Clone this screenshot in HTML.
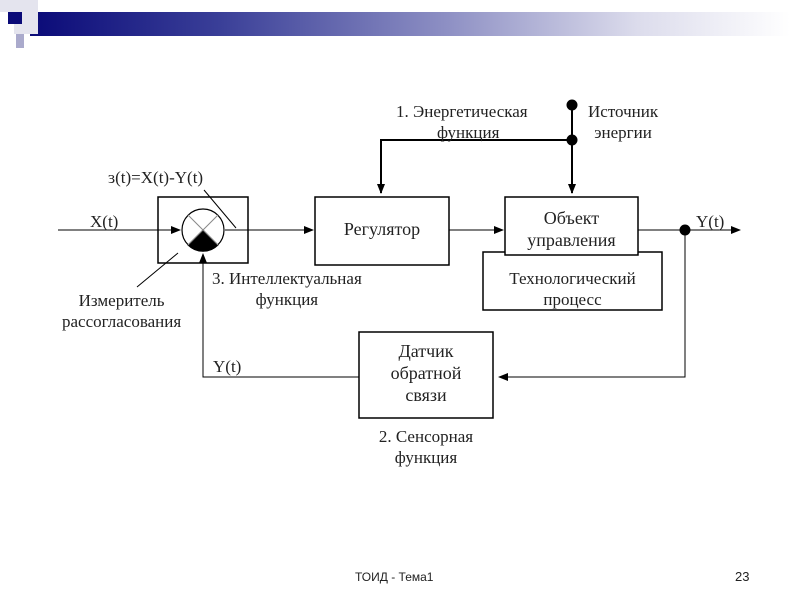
<!DOCTYPE html>
<html><head><meta charset="utf-8"><style>
body{margin:0;width:800px;height:600px;background:#fff;overflow:hidden;position:relative;font-family:"Liberation Serif",serif}
.t{position:absolute;font-size:17px;color:#222;text-align:center;line-height:19px;white-space:nowrap}
</style></head><body>
<div style="position:absolute;left:30px;top:12px;width:760px;height:24px;background:linear-gradient(to right,#0a0a78,#3a3f98 25%,#8e90c4 55%,#dcdcec 80%,#fff)"></div>
<div style="position:absolute;left:0;top:0;width:38px;height:12px;background:#e4e4ee"></div>
<div style="position:absolute;left:14px;top:0;width:24px;height:34px;background:#e4e4ee"></div>
<div style="position:absolute;left:8px;top:12px;width:14px;height:12px;background:#0a0a78"></div>
<div style="position:absolute;left:16px;top:34px;width:8px;height:14px;background:#aaaacc"></div>
<svg width="800" height="600" style="position:absolute;left:0;top:0" fill="none" stroke="#000">
<defs><marker id="a" markerWidth="10" markerHeight="8" refX="9" refY="4" orient="auto" markerUnits="userSpaceOnUse"><path d="M0,0L10,4L0,8z" fill="#000" stroke="none"/></marker></defs>
<rect x="158" y="197" width="90" height="66" stroke-width="1.5"/>
<rect x="315" y="197" width="134" height="68" stroke-width="1.5"/>
<rect x="483" y="252" width="179" height="58" stroke-width="1.5"/>
<rect x="505" y="197" width="133" height="58" fill="#fff" stroke-width="1.5"/>
<rect x="359" y="332" width="134" height="86" stroke-width="1.5"/>
<circle cx="203" cy="230" r="21" stroke-width="1.2"/>
<path d="M203,230L188,245A21,21 0 0 0 218,245Z" fill="#000"/>
<path d="M188,215L218,245M218,215L188,245" stroke="#888"/>
<path d="M58,230H180" marker-end="url(#a)"/>
<path d="M225,230H313" marker-end="url(#a)"/>
<path d="M449,230H503" marker-end="url(#a)"/>
<path d="M638,230H740" marker-end="url(#a)"/>
<path d="M685,230V377H499" marker-end="url(#a)"/>
<path d="M359,377H203V254" marker-end="url(#a)"/>
<path d="M572,105V193" stroke-width="2" marker-end="url(#a)"/>
<path d="M572,140H381V193" stroke-width="2" marker-end="url(#a)"/>
<path d="M204,190L236,228M178,253L137,287"/>
<circle cx="572" cy="105" r="5" fill="#000"/>
<circle cx="572" cy="140" r="5" fill="#000"/>
<circle cx="685" cy="230" r="5" fill="#000"/>
</svg>
<div class="t" style="left:108px;top:168px">ɜ(t)=X(t)-Y(t)</div>
<div class="t" style="left:90px;top:212px">X(t)</div>
<div class="t" style="left:696px;top:212px">Y(t)</div>
<div class="t" style="left:213px;top:357px">Y(t)</div>
<div class="t" style="left:62px;top:290px;line-height:21px">Измеритель<br>рассогласования</div>
<div class="t" style="left:212px;top:268px;line-height:21px">3. Интеллектуальная<br>функция</div>
<div class="t" style="left:396px;top:101px;line-height:21px">1. Энергетическая<br>&nbsp;&nbsp;&nbsp;функция</div>
<div class="t" style="left:588px;top:101px;line-height:21px">Источник<br>энергии</div>
<div class="t" style="left:315px;top:220px;width:134px;font-size:18px">Регулятор</div>
<div class="t" style="left:505px;top:207px;width:133px;font-size:18px;line-height:22px">Объект<br>управления</div>
<div class="t" style="left:483px;top:268px;width:179px;font-size:17px;line-height:21px">Технологический<br>процесс</div>
<div class="t" style="left:359px;top:340px;width:134px;font-size:18px;line-height:22px">Датчик<br>обратной<br>связи</div>
<div class="t" style="left:359px;top:426px;width:134px;line-height:21px">2. Сенсорная<br>функция</div>
<div class="t" style="left:355px;top:568px;font-family:'Liberation Sans',sans-serif;font-size:12px">ТОИД - Тема1</div>
<div class="t" style="left:735px;top:567px;font-family:'Liberation Sans',sans-serif;font-size:13px">23</div>
</body></html>
